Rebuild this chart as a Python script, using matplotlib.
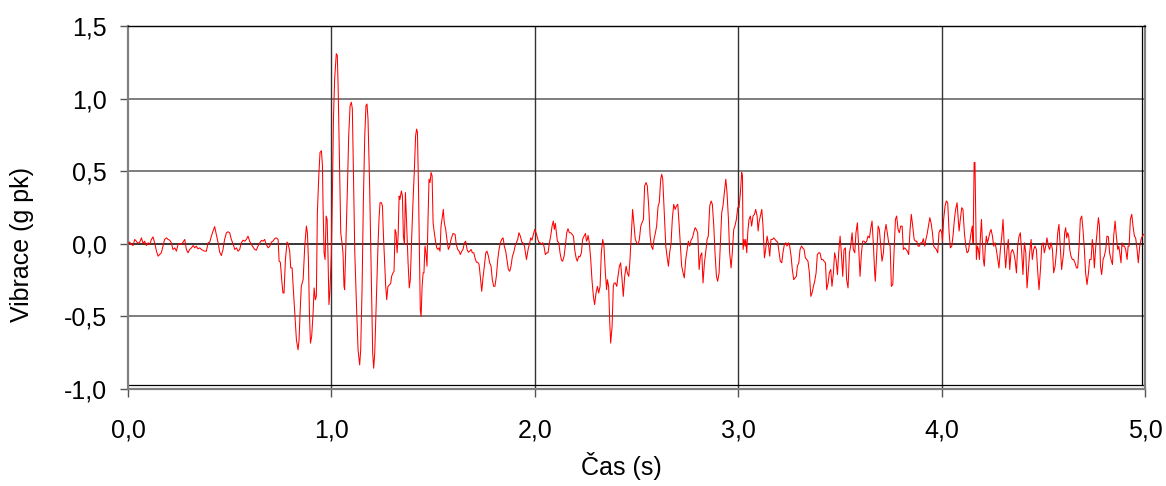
import numpy as np
import matplotlib
matplotlib.use("Agg")
import matplotlib.pyplot as plt
from matplotlib.ticker import FuncFormatter

# ---- data (time in s, vibration in g pk) ----
t_seg1 = [0.000, 0.008, 0.017, 0.025, 0.033, 0.041, 0.049, 0.058, 0.066, 0.074,
          0.082, 0.090, 0.099, 0.107, 0.115, 0.123, 0.131, 0.140, 0.148, 0.156,
          0.164, 0.172, 0.180, 0.189, 0.197, 0.205, 0.213, 0.221, 0.230, 0.238,
          0.246, 0.254, 0.262, 0.271, 0.279, 0.287, 0.295, 0.303, 0.312, 0.320,
          0.328, 0.336, 0.344, 0.353, 0.361, 0.369, 0.377, 0.385, 0.394, 0.402,
          0.410, 0.418, 0.426, 0.434, 0.443, 0.451, 0.459, 0.467, 0.475, 0.484,
          0.492, 0.500, 0.508, 0.516, 0.525, 0.533, 0.541, 0.549, 0.557, 0.566,
          0.574, 0.582, 0.590, 0.598, 0.607, 0.615, 0.623, 0.631, 0.639, 0.648]
v_seg1 = [0.000, 0.012, -0.005, -0.012, 0.030, 0.018, 0.002, 0.012, 0.041, 0.002,
          0.018, -0.012, 0.007, -0.005, 0.030, 0.048, 0.007, -0.051, -0.085, -0.074,
          -0.062, -0.016, 0.030, 0.041, 0.030, 0.025, 0.007, -0.039, -0.028, -0.051,
          -0.005, 0.002, -0.005, 0.012, 0.030, -0.039, -0.062, -0.039, -0.028, -0.012,
          -0.028, -0.016, -0.035, -0.028, -0.039, -0.046, -0.051, -0.051, 0.007, 0.012,
          0.053, 0.088, 0.118, 0.065, 0.007, -0.058, -0.081, -0.039, 0.030, 0.076,
          0.083, 0.076, 0.030, 0.002, -0.039, -0.028, -0.051, -0.039, 0.007, 0.025,
          0.018, 0.030, 0.053, 0.018, -0.005, -0.023, -0.039, -0.044, -0.016, 0.007]

t_seg2 = [0.656, 0.664, 0.672, 0.680, 0.689, 0.697, 0.705, 0.713, 0.721, 0.729,
          0.738, 0.743, 0.749, 0.757, 0.762, 0.767, 0.774, 0.782, 0.787, 0.795,
          0.800, 0.807, 0.811, 0.820, 0.828, 0.836, 0.841, 0.846, 0.852, 0.861,
          0.869, 0.877, 0.882, 0.887, 0.892, 0.897, 0.903, 0.910, 0.915, 0.921,
          0.926, 0.931, 0.938, 0.944, 0.951, 0.956, 0.959, 0.964, 0.969, 0.974,
          0.979, 0.983, 0.988, 0.993, 1.000, 1.005, 1.010, 1.016, 1.024, 1.029,
          1.033, 1.039, 1.046, 1.052, 1.057, 1.062, 1.065, 1.070, 1.079, 1.085,
          1.092, 1.098, 1.103, 1.108, 1.115, 1.123, 1.131, 1.139, 1.144, 1.151,
          1.157, 1.164, 1.170, 1.175, 1.180, 1.188, 1.197, 1.203, 1.208, 1.213,
          1.218, 1.223, 1.229, 1.234, 1.239, 1.246, 1.251, 1.256, 1.262, 1.267,
          1.272, 1.278]
v_seg2 = [0.023, 0.018, 0.030, -0.005, -0.028, -0.016, 0.012, 0.018, 0.035, 0.041,
          0.030, -0.120, -0.127, -0.270, -0.339, -0.339, -0.108, 0.012, 0.002, -0.051,
          -0.166, -0.166, -0.270, -0.477, -0.661, -0.730, -0.661, -0.477, -0.293, -0.247,
          -0.016, 0.122, 0.076, -0.108, -0.477, -0.684, -0.638, -0.477, -0.304, -0.385,
          -0.362, 0.214, 0.468, 0.629, 0.641, 0.537, 0.260, -0.062, -0.108, 0.191,
          0.168, -0.062, -0.419, -0.316, -0.062, 0.353, 0.859, 1.136, 1.309, 1.297,
          1.090, 0.629, 0.076, 0.007, -0.062, -0.293, -0.316, -0.062, 0.399, 0.744,
          0.952, 0.975, 0.929, 0.514, -0.062, -0.408, -0.730, -0.834, -0.730, -0.293,
          0.283, 0.744, 0.952, 0.963, 0.859, 0.399, -0.293, -0.753, -0.857, -0.753,
          -0.523, -0.293, -0.016, 0.168, 0.283, 0.283, 0.260, 0.053, -0.131, -0.293,
          -0.385, -0.293]

t_seg3 = [1.287, 1.292, 1.296, 1.303, 1.308, 1.313, 1.318, 1.323, 1.328, 1.333,
          1.337, 1.344, 1.349, 1.354, 1.359, 1.364, 1.369, 1.377, 1.383, 1.388,
          1.395, 1.401, 1.408, 1.414, 1.419, 1.423, 1.428, 1.433, 1.437, 1.441,
          1.446, 1.451, 1.455, 1.460, 1.465, 1.470, 1.475, 1.480, 1.485, 1.490,
          1.495, 1.500, 1.506, 1.513, 1.518, 1.524, 1.529, 1.534, 1.539, 1.546,
          1.550, 1.555, 1.562, 1.569, 1.575, 1.582, 1.588, 1.598, 1.608, 1.614,
          1.621, 1.628, 1.634, 1.641, 1.647, 1.654, 1.660, 1.667, 1.673, 1.680,
          1.687, 1.693, 1.700, 1.706, 1.713, 1.719, 1.726, 1.732, 1.739, 1.746,
          1.752, 1.759, 1.765, 1.772, 1.778, 1.785, 1.791, 1.798, 1.804, 1.811,
          1.818, 1.824, 1.831, 1.837, 1.844, 1.850, 1.857, 1.863, 1.870, 1.877,
          1.883, 1.890, 1.896, 1.903, 1.909, 1.916, 1.922, 1.929, 1.936, 1.942,
          1.949]
v_seg3 = [-0.281, -0.270, -0.224, -0.200, -0.189, 0.099, 0.076, -0.062, 0.053, 0.329,
          0.306, 0.364, 0.329, 0.053, -0.005, 0.353, 0.168, -0.131, -0.304, -0.247,
          0.053, 0.283, 0.514, 0.744, 0.790, 0.767, 0.399, -0.062, -0.454, -0.500,
          -0.293, -0.200, -0.200, -0.016, -0.062, -0.154, 0.168, 0.445, 0.422, 0.491,
          0.468, 0.145, 0.076, 0.007, -0.028, -0.039, -0.028, -0.051, 0.122, 0.191,
          0.237, 0.145, 0.099, 0.018, -0.039, -0.016, 0.030, 0.071, 0.065, -0.005,
          -0.039, -0.051, -0.074, -0.051, -0.039, 0.007, 0.018, -0.039, -0.058, -0.051,
          -0.039, -0.062, -0.062, -0.097, -0.127, -0.127, -0.143, -0.224, -0.327, -0.224,
          -0.154, -0.062, -0.051, -0.085, -0.131, -0.154, -0.247, -0.293, -0.293, -0.224,
          -0.108, -0.039, 0.007, 0.030, 0.041, -0.016, -0.051, -0.108, -0.177, -0.189,
          -0.154, -0.085, -0.062, -0.016, 0.007, 0.030, 0.076, 0.053, 0.012, 0.007,
          -0.016]

t_seg4 = [1.959, 1.967, 1.975, 1.980, 1.986, 1.993, 2.000, 2.006, 2.013, 2.019,
          2.026, 2.032, 2.039, 2.045, 2.052, 2.059, 2.065, 2.072, 2.078, 2.085,
          2.091, 2.096, 2.101, 2.106, 2.111, 2.118, 2.124, 2.131, 2.137, 2.144,
          2.150, 2.157, 2.163, 2.170, 2.177, 2.183, 2.190, 2.196, 2.203, 2.209,
          2.216, 2.222, 2.229, 2.235, 2.242, 2.249, 2.254, 2.258, 2.262, 2.268,
          2.275, 2.281, 2.288, 2.294, 2.301, 2.308, 2.314, 2.321, 2.327, 2.334,
          2.340, 2.347, 2.353, 2.357, 2.363, 2.368, 2.373, 2.380, 2.386, 2.390,
          2.396, 2.403, 2.409, 2.416, 2.422, 2.429, 2.435, 2.442, 2.449, 2.455,
          2.462, 2.468, 2.475, 2.481, 2.488, 2.494, 2.501, 2.508, 2.514, 2.521,
          2.527, 2.534, 2.540, 2.547, 2.553, 2.560, 2.567, 2.573, 2.580, 2.586,
          2.593, 2.599, 2.606, 2.612, 2.619, 2.624, 2.629]
v_seg4 = [-0.108, -0.039, 0.007, 0.041, 0.025, 0.065, 0.099, 0.076, 0.041, 0.012,
          0.007, 0.000, 0.007, -0.016, -0.074, -0.062, -0.062, 0.007, 0.053, 0.122,
          0.157, 0.099, 0.141, 0.076, 0.018, 0.007, -0.062, -0.113, -0.120, -0.085,
          -0.016, 0.076, 0.104, 0.076, 0.076, 0.065, 0.053, -0.039, -0.097, -0.120,
          -0.085, -0.090, -0.062, 0.030, 0.053, 0.071, 0.018, 0.030, 0.058, 0.007,
          -0.108, -0.247, -0.362, -0.419, -0.339, -0.293, -0.339, -0.293, -0.062, 0.030,
          -0.016, -0.200, -0.316, -0.247, -0.293, -0.523, -0.684, -0.569, -0.293, -0.270,
          -0.270, -0.293, -0.224, -0.154, -0.131, -0.247, -0.362, -0.224, -0.154, -0.200,
          -0.224, -0.108, 0.076, 0.237, 0.122, 0.030, 0.007, -0.005, 0.030, 0.122,
          0.145, 0.168, 0.399, 0.422, 0.399, 0.260, 0.053, -0.016, -0.039, 0.030,
          0.076, 0.122, 0.260, 0.283, 0.445, 0.479, 0.445]

t_seg5 = [2.637, 2.644, 2.650, 2.657, 2.663, 2.670, 2.676, 2.683, 2.690, 2.696,
          2.703, 2.709, 2.716, 2.722, 2.729, 2.735, 2.742, 2.749, 2.755, 2.762,
          2.768, 2.775, 2.781, 2.788, 2.794, 2.801, 2.808, 2.814, 2.821, 2.827,
          2.834, 2.840, 2.847, 2.853, 2.860, 2.867, 2.873, 2.880, 2.886, 2.893,
          2.899, 2.906, 2.912, 2.919, 2.925, 2.932, 2.939, 2.945, 2.952, 2.958,
          2.965, 2.971, 2.978, 2.984, 2.991, 2.998, 3.004, 3.011, 3.017, 3.021,
          3.024, 3.029, 3.034, 3.037, 3.042, 3.047, 3.053, 3.060, 3.066, 3.073,
          3.080, 3.086, 3.093, 3.098, 3.102, 3.109, 3.116, 3.122, 3.129, 3.135,
          3.142, 3.148, 3.155, 3.161, 3.168, 3.175, 3.181, 3.188, 3.194, 3.201,
          3.207, 3.214, 3.220, 3.227, 3.234, 3.240, 3.247, 3.253, 3.260, 3.266,
          3.273, 3.279, 3.286]
v_seg5 = [0.191, -0.016, -0.085, -0.154, -0.062, 0.007, 0.168, 0.272, 0.237, 0.260,
          0.272, 0.145, -0.016, -0.154, -0.200, -0.235, -0.108, -0.039, 0.018, -0.016,
          0.025, 0.041, 0.076, 0.111, 0.099, 0.076, -0.177, -0.085, -0.062, -0.270,
          -0.131, -0.062, 0.030, 0.053, 0.260, 0.295, 0.272, 0.122, -0.062, -0.224,
          -0.258, -0.200, -0.016, 0.214, 0.260, 0.353, 0.445, 0.353, 0.168, -0.062,
          -0.166, -0.062, 0.099, 0.122, 0.168, 0.249, 0.249, 0.353, 0.491, 0.468,
          -0.039, 0.030, -0.016, 0.030, -0.062, 0.076, 0.168, 0.191, 0.122, 0.191,
          0.203, 0.237, 0.191, 0.088, 0.145, 0.191, 0.237, 0.122, -0.097, -0.039,
          0.053, 0.007, -0.085, 0.030, 0.030, 0.041, 0.030, 0.018, 0.012, -0.062,
          -0.120, -0.131, -0.062, -0.005, 0.007, -0.016, 0.007, -0.016, -0.085, -0.177,
          -0.247, -0.235, -0.224]

t_seg6 = [3.291, 3.298, 3.304, 3.311, 3.317, 3.324, 3.330, 3.337, 3.343, 3.350,
          3.357, 3.363, 3.370, 3.376, 3.383, 3.389, 3.396, 3.402, 3.409, 3.416,
          3.422, 3.429, 3.435, 3.442, 3.448, 3.455, 3.461, 3.468, 3.474, 3.481,
          3.488, 3.494, 3.501, 3.507, 3.514, 3.520, 3.527, 3.533, 3.540, 3.547,
          3.553, 3.560, 3.566, 3.573, 3.579, 3.586, 3.592, 3.599, 3.606, 3.612,
          3.619, 3.625, 3.632, 3.638, 3.645, 3.651, 3.658, 3.665, 3.671, 3.674,
          3.681, 3.688, 3.694, 3.701, 3.707, 3.714, 3.720, 3.727, 3.733, 3.740,
          3.747, 3.753, 3.760, 3.766, 3.773, 3.779, 3.786, 3.792, 3.799, 3.806,
          3.812, 3.819, 3.825, 3.832, 3.838, 3.845, 3.851, 3.858, 3.865, 3.871,
          3.878, 3.884, 3.891, 3.897, 3.904, 3.910, 3.917, 3.923, 3.930]
v_seg6 = [-0.154, -0.131, -0.039, -0.016, -0.028, -0.039, -0.097, -0.108, -0.120, -0.200,
          -0.362, -0.339, -0.293, -0.258, -0.200, -0.074, -0.062, -0.062, -0.108, -0.108,
          -0.120, -0.131, -0.316, -0.270, -0.200, -0.177, -0.293, -0.200, -0.062, -0.108,
          -0.212, -0.062, 0.053, -0.062, -0.224, -0.039, -0.028, -0.247, -0.304, -0.062,
          -0.016, 0.076, -0.039, -0.062, 0.076, 0.145, -0.016, -0.224, -0.062, 0.018,
          0.018, 0.007, 0.018, 0.053, 0.041, 0.099, 0.157, -0.016, -0.200, -0.258,
          -0.062, 0.122, 0.099, -0.016, -0.120, -0.062, 0.076, 0.134, 0.076, 0.007,
          -0.016, -0.293, -0.281, -0.062, 0.168, 0.191, 0.099, 0.076, 0.122, 0.122,
          -0.039, -0.028, -0.039, -0.051, -0.074, 0.099, 0.203, 0.122, 0.030, 0.018,
          0.018, -0.016, -0.016, 0.007, 0.007, 0.035, -0.016, 0.030, 0.076]

t_seg7 = [3.942, 3.948, 3.955, 3.961, 3.968, 3.974, 3.981, 3.987, 3.994, 4.001,
          4.004, 4.010, 4.017, 4.023, 4.030, 4.037, 4.043, 4.050, 4.056, 4.063,
          4.069, 4.076, 4.082, 4.086, 4.092, 4.099, 4.105, 4.112, 4.119, 4.125,
          4.132, 4.138, 4.145, 4.151, 4.155, 4.160, 4.164, 4.168, 4.171, 4.176,
          4.181, 4.186, 4.191, 4.196, 4.200, 4.205, 4.210, 4.215, 4.220, 4.225,
          4.230, 4.237, 4.243, 4.250, 4.256, 4.263, 4.269, 4.276, 4.282, 4.289,
          4.296, 4.302, 4.309, 4.315, 4.322, 4.328, 4.335, 4.341, 4.348, 4.355,
          4.361, 4.368, 4.374, 4.381, 4.387, 4.394, 4.400, 4.407, 4.414, 4.420,
          4.427, 4.433, 4.440, 4.446, 4.453, 4.459, 4.466, 4.473, 4.479, 4.486,
          4.492, 4.499, 4.505, 4.512, 4.518, 4.525, 4.531, 4.538, 4.545, 4.551,
          4.558, 4.564, 4.571, 4.577, 4.584, 4.590]
v_seg7 = [0.180, 0.145, 0.076, -0.016, -0.028, -0.039, -0.062, 0.076, 0.099, 0.076,
          0.018, 0.168, 0.260, 0.295, 0.283, 0.076, -0.028, -0.016, 0.053, 0.168,
          0.237, 0.283, 0.168, 0.088, 0.168, 0.249, 0.237, 0.076, -0.016, -0.062,
          -0.051, 0.007, 0.076, 0.122, 0.007, 0.560, 0.560, 0.168, -0.108, -0.016,
          -0.039, -0.108, 0.053, 0.168, 0.030, -0.108, -0.154, -0.016, 0.053, 0.007,
          0.030, 0.076, 0.099, 0.053, -0.016, 0.007, -0.039, -0.108, -0.166, -0.039,
          0.053, 0.168, -0.039, -0.166, -0.039, 0.030, -0.177, -0.062, -0.039, -0.062,
          -0.108, -0.200, -0.016, 0.053, 0.076, -0.062, -0.212, 0.007, -0.062, -0.304,
          -0.177, -0.062, 0.030, -0.108, -0.039, -0.016, -0.039, -0.200, -0.316, -0.177,
          -0.016, 0.007, -0.062, -0.016, 0.041, -0.016, -0.039, 0.007, -0.039, -0.200,
          -0.154, -0.062, 0.076, 0.134, -0.039, -0.177]

t_seg8 = [4.600, 4.605, 4.610, 4.615, 4.620, 4.625, 4.630, 4.636, 4.643, 4.649,
          4.656, 4.663, 4.669, 4.676, 4.682, 4.689, 4.695, 4.702, 4.708, 4.715,
          4.722, 4.728, 4.735, 4.741, 4.746, 4.751, 4.758, 4.764, 4.771, 4.776,
          4.781, 4.787, 4.794, 4.800, 4.807, 4.813, 4.820, 4.826, 4.833, 4.840,
          4.846, 4.853, 4.859, 4.866, 4.871, 4.876, 4.882, 4.887, 4.892, 4.899,
          4.905, 4.912, 4.917, 4.922, 4.928, 4.935, 4.941, 4.948, 4.954, 4.961,
          4.967, 4.974, 4.981, 4.987, 4.994]
v_seg8 = [-0.062, 0.076, 0.111, 0.041, 0.076, 0.053, -0.039, -0.085, -0.108, -0.108,
          -0.131, -0.166, -0.166, -0.016, 0.168, 0.191, 0.099, -0.039, -0.200, -0.281,
          -0.200, -0.108, -0.108, 0.030, -0.039, -0.166, -0.016, 0.076, 0.180, 0.122,
          -0.154, -0.212, -0.108, -0.085, -0.039, 0.053, 0.048, -0.062, -0.108, -0.143,
          0.053, 0.157, 0.053, -0.039, -0.016, -0.062, -0.131, 0.007, -0.016, -0.016,
          -0.039, -0.108, -0.016, -0.016, 0.168, 0.203, 0.122, 0.053, 0.041, -0.039,
          -0.131, -0.016, 0.030, 0.053, 0.065]

x_ticks = [0.0, 1.0, 2.0, 3.0, 4.0, 5.0]
y_ticks = [-1.0, -0.5, 0.0, 0.5, 1.0, 1.5]
x_label = "Čas (s)"
y_label = "Vibrace (g pk)"

time = np.concatenate([t_seg1, t_seg2, t_seg3, t_seg4, t_seg5, t_seg6, t_seg7, t_seg8])
vib = np.concatenate([v_seg1, v_seg2, v_seg3, v_seg4, v_seg5, v_seg6, v_seg7, v_seg8])

plt.rcParams['font.family'] = ['Liberation Sans', 'DejaVu Sans']

W, H = 1166, 486
fig = plt.figure(figsize=(W / 100, H / 100), dpi=100)
ax = fig.add_axes([128 / W, 1 - 389 / H, (1145 - 128) / W, (389 - 26) / H])

ax.set_xlim(0, 5)
ax.set_ylim(-1.0, 1.5)
ax.set_xticks(x_ticks)
ax.set_yticks(y_ticks)

comma = FuncFormatter(lambda v, p: f"{v:.1f}".replace(".", ","))
ax.xaxis.set_major_formatter(comma)
ax.yaxis.set_major_formatter(comma)

# grid
for y in y_ticks[1:-1]:
    ax.axhline(y, color='#000000' if y == 0 else '#5a5a5a', lw=1.1, zorder=1)
for x in x_ticks[1:-1]:
    ax.axvline(x, color='#333333', lw=1.0, zorder=1)

# inner plot-area border lines (Excel style double frame)
ax.plot([0, 1], [0.01, 0.01], transform=ax.transAxes, color='black', lw=0.9, zorder=2)
ax.plot([0.9975, 0.9975], [0.01, 1], transform=ax.transAxes, color='black', lw=0.9, zorder=2)

ax.plot(time, vib, color='#ff0000', lw=0.75, zorder=3)

for side in ['left', 'bottom', 'right']:
    ax.spines[side].set_color('#808080')
    ax.spines[side].set_linewidth(1.6)
ax.spines['top'].set_color('black')
ax.spines['top'].set_linewidth(1.0)

ax.tick_params(axis='both', direction='out', length=6, width=1, color='#555555',
               labelsize=18, labelcolor='black')
ax.tick_params(axis='y', pad=9)
ax.tick_params(axis='x', pad=15)

fig.text(621 / W, 1 - 466 / H, x_label, fontsize=18, ha='center', va='center')
fig.text(22 / W, 1 - 245 / H, y_label, fontsize=18, rotation=90, ha='center', va='center')

fig.savefig("out.png", dpi=100)
